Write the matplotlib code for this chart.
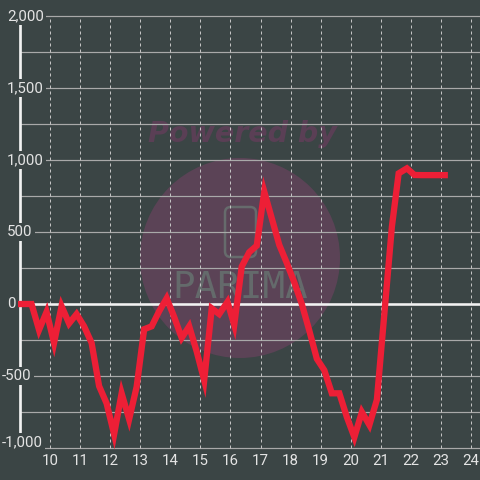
import matplotlib
matplotlib.use('Agg')
from matplotlib import pyplot as plt
from matplotlib.patches import Circle, FancyBboxPatch

# hourly profile (x = hour of day, y = value)
hours = [8.9, 9.375, 9.625, 9.875, 10.125, 10.375, 10.625, 10.875, 11.125, 11.375,
         11.625, 11.875, 12.125, 12.375, 12.625, 12.875, 13.125, 13.375, 13.625, 13.875,
         14.125, 14.375, 14.625, 14.875, 15.125, 15.375, 15.625, 15.9, 16.125, 16.375,
         16.625, 16.875, 17.125, 17.375, 17.625, 17.875, 18.125, 18.375, 18.625, 18.875,
         19.125, 19.375, 19.625, 19.875, 20.125, 20.375, 20.625, 20.875, 21.125, 21.375,
         21.6, 21.875, 22.125, 22.375, 22.625, 22.875, 23.24]
values = [0, 0, -180, -55, -270, -15, -135, -70, -155, -270,
          -570, -690, -905, -620, -800, -575, -175, -155, -50, 40,
          -90, -235, -155, -330, -530, -30, -70, 15, -145, 260,
          360, 405, 780, 595, 410, 285, 150, 0, -185, -380,
          -460, -620, -620, -785, -925, -750, -840, -665, -65, 537,
          907, 942, 896, 895, 895, 895, 895]

y_ticks = [-1000, -500, 0, 500, 1000, 1500, 2000]
y_grid = list(range(-1000, 2001, 250))
x_ticks = list(range(10, 25))

bg = '#3b4545'
txt = '#e4e4e4'
px = 0.72  # one pixel in points at dpi 100

fig = plt.figure(figsize=(4.8, 4.8), dpi=100, facecolor=bg)
ax = fig.add_axes((0, 0, 1, 1), facecolor=bg)
x0, x1 = 8.325, 24.309
y0, y1 = -1222, 2111
ax.set_xlim(x0, x1)
ax.set_ylim(y0, y1)
ax.axis('off')

# watermark
ax.add_patch(Circle((240/480, 1-258/480), 100/480, transform=ax.transAxes,
                    facecolor='#5b4356', edgecolor='none', zorder=0))
ax.text(242/480, 1-134/480, 'Powered by', transform=ax.transAxes, ha='center', va='center',
        fontsize=20.5, fontweight='bold', fontstyle='italic', color='#5a3f55', zorder=0.5)
ax.add_patch(FancyBboxPatch((225/480, 1-257/480), 31/480, 50/480, transform=ax.transAxes,
                            boxstyle='round,pad=0,rounding_size=0.012', facecolor='none',
                            edgecolor='#666b6c', lw=2.5*px, zorder=0.5))
ax.text(240/480, 1-288/480, 'PARIMA', transform=ax.transAxes, ha='center', va='center',
        fontsize=27, family='DejaVu Sans Mono', color='#646a6b', zorder=0.5)

# grid
for v in y_grid:
    if v == 0:
        continue
    ax.hlines(v, 9.0, x1, color='#a9a9a9', lw=1.2*px, zorder=1)
for x in x_ticks:
    ax.vlines(x, -1000, 2000, color='#c4c4c4', lw=1*px, linestyles=(0, (3, 3)), zorder=1)
ax.hlines(0, 9.0, x1, color='#f2f2f2', lw=2.6*px, zorder=2)
ax.vlines(9.0, -1000, 2000, color='#f2f2f2', lw=2.7*px, zorder=2)

ax.plot(hours, values, color='#ed1f36', lw=6.3*px, solid_capstyle='butt',
        solid_joinstyle='miter', zorder=3)

# y labels
for v in y_ticks:
    lx = x0 + (2 if v < 0 else 7) / 30.03
    ly = -958 if v == -1000 else v
    ax.text(lx, ly, f'{v:,}', ha='left', va='center', fontsize=10.8, family='Roboto',
            color=txt, zorder=4,
            bbox=dict(boxstyle='square,pad=0.15', facecolor=bg, edgecolor='none'))

# x labels
for x in x_ticks:
    ax.text(x, -1090, str(x), ha='center', va='center', fontsize=10.8, family='Roboto',
            color=txt, zorder=4)

fig.savefig('out.png', dpi=100, facecolor=bg)
